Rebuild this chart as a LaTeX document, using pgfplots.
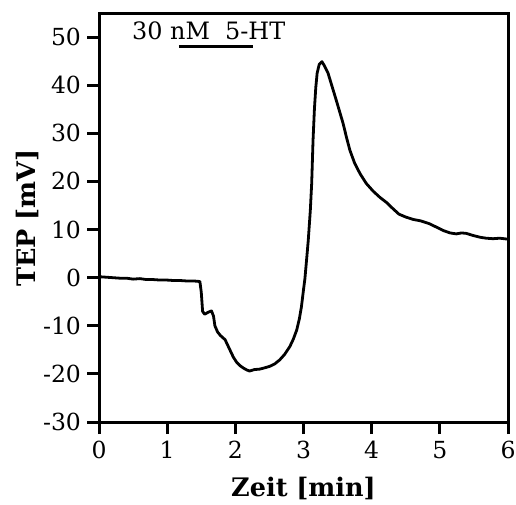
\documentclass[border=0pt]{standalone}
\usepackage{fontspec}
\setmainfont{DejaVu Serif}
\usepackage{pgfplots}
\pgfplotsset{compat=1.18}
\usetikzlibrary{calc}
\begin{document}
\begin{tikzpicture}
\begin{axis}[
  name=ax,
  scale only axis,
  width=204.5bp, height=204bp,
  xmin=0, xmax=6, ymin=-30, ymax=54.8,
  xtick={0,1,2,3,4,5,6},
  ytick={-30,-20,-10,0,10,20,30,40,50},
  axis line style={line width=1.5bp},
  tick style={line width=1.5bp, black},
  tick align=outside,
  major tick length=6bp,
  xtick pos=bottom, ytick pos=left,
  /pgf/number format/assume math mode=true,
  tick label style={font=\fontsize{11.8}{13}\selectfont},
  yticklabel style={xshift=0.5bp},
  xlabel={\fontsize{12.8}{14}\selectfont\bfseries Zeit [min]},
  ylabel={\fontsize{12.8}{14}\selectfont\bfseries TEP [mV]},
  every axis x label/.style={at={(axis description cs:0.5,-0.162)}, anchor=center},
  every axis y label/.style={at={(axis description cs:-0.176,0.5)}, rotate=90, anchor=center},
  clip=false,
]
\addplot[black, line width=1.4bp, line join=round] coordinates {
(0,0.2)(0.1,0.1)(0.2,0.0)(0.3,-0.1)(0.4,-0.1)(0.5,-0.3)(0.6,-0.2)(0.7,-0.4)(0.8,-0.4)(0.9,-0.5)
(1.0,-0.5)(1.1,-0.6)(1.2,-0.6)(1.3,-0.7)(1.4,-0.7)(1.48,-0.8)(1.50,-3)(1.52,-7.0)(1.55,-7.6)(1.6,-7.2)
(1.65,-6.9)(1.68,-8)(1.70,-10.0)(1.74,-11.3)(1.78,-12.0)(1.85,-12.9)(1.92,-15.0)(1.97,-16.5)(2.02,-17.6)
(2.07,-18.3)(2.12,-18.8)(2.17,-19.2)(2.21,-19.4)(2.28,-19.1)(2.36,-19.0)(2.44,-18.7)(2.51,-18.4)
(2.58,-17.9)(2.65,-17.1)(2.72,-16.0)(2.80,-14.3)(2.85,-12.8)(2.90,-10.9)(2.94,-8.5)(2.97,-6.0)
(3.00,-2.5)(3.02,-0.3)(3.05,4.5)(3.07,7.8)(3.10,14)(3.12,19.6)(3.14,28.6)(3.16,35)(3.18,39.5)
(3.20,42.5)(3.23,44.3)(3.27,44.9)(3.30,44.2)(3.36,42.5)(3.42,39.7)(3.48,36.9)(3.53,34.5)(3.58,32.1)
(3.63,29.2)(3.68,26.5)(3.75,23.8)(3.83,21.6)(3.92,19.6)(4.02,18.0)(4.12,16.7)(4.22,15.6)(4.30,14.5)
(4.40,13.2)(4.50,12.6)(4.61,12.1)(4.72,11.8)(4.85,11.2)(4.95,10.5)(5.05,9.8)(5.15,9.3)(5.24,9.1)
(5.32,9.3)(5.39,9.2)(5.48,8.8)(5.59,8.4)(5.68,8.2)(5.78,8.1)(5.88,8.2)(6.0,8.0)
};
\addplot[black, line width=1.3bp] coordinates {(1.17,48)(2.26,48)};
\node[anchor=base west, inner sep=0pt, font=\fontsize{12}{13}\selectfont] at (axis cs:0.48,49.6) {30 nM\ \ 5-HT};
\end{axis}
\pgfresetboundingbox
\useasboundingbox ($(ax.south west)+(-49.5bp,-41bp)$) rectangle ($(ax.north east)+(4bp,7bp)$);
\end{tikzpicture}
\end{document}
